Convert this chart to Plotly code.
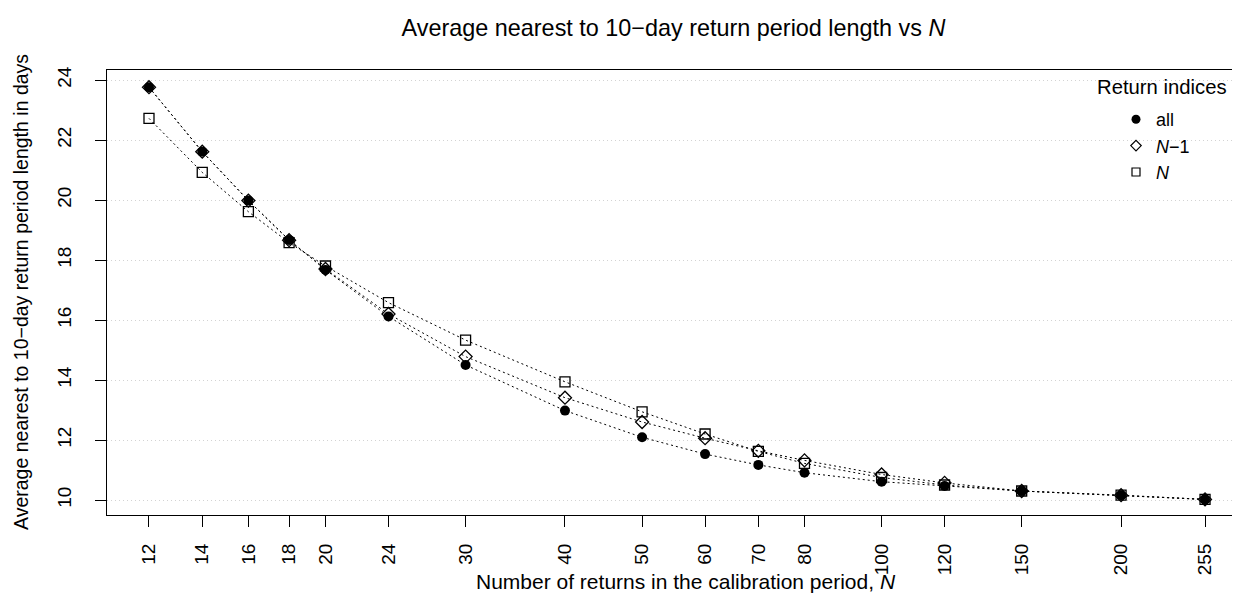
import plotly.graph_objects as go

# ---- data ----
N_values = [12, 14, 16, 18, 20, 24, 30, 40, 50, 60, 70, 80, 100, 120, 150, 200, 255]
x_tick_labels = [str(v) for v in N_values]
y_tick_values = [10, 12, 14, 16, 18, 20, 22, 24]

avg_all = [23.76, 21.61, 19.98, 18.67, 17.67, 16.12, 14.50, 12.98, 12.09, 11.53,
           11.17, 10.91, 10.61, 10.47, 10.30, 10.16, 10.02]
avg_n_minus_1 = [23.76, 21.61, 19.98, 18.66, 17.70, 16.20, 14.78, 13.41, 12.60, 12.06,
                 11.64, 11.32, 10.85, 10.57, 10.30, 10.16, 10.02]
avg_n = [22.72, 20.92, 19.61, 18.58, 17.80, 16.58, 15.33, 13.94, 12.94, 12.20,
         11.62, 11.22, 10.75, 10.50, 10.30, 10.16, 10.02]

series_names = ["all", "<i>N</i>−1", "<i>N</i>"]

FONT = "Liberation Sans, Arial, Helvetica, sans-serif"
line_style = dict(color="black", width=1, dash="2px,3px")

# the page body has an 8px default margin, so the figure is 8px smaller
W, H = 1232, 598
PLOT_W, PLOT_H = 1133, 445

fig = go.Figure()

specs = [
    (avg_all, dict(symbol="circle", size=10, color="black", line=dict(width=0))),
    (avg_n_minus_1, dict(symbol="diamond-open", size=10, color="black", line=dict(width=1.3, color="black"))),
    (avg_n, dict(symbol="square-open", size=10, color="black", line=dict(width=1.3, color="black"))),
]

for (vals, mk), name in zip(specs, series_names):
    fig.add_trace(go.Scatter(x=N_values, y=vals, mode="lines+markers", line=line_style,
                             marker=mk, showlegend=False, name=name, cliponaxis=False))

# legend-only entries (points only, like the R legend)
legend_marks = [
    dict(symbol="circle", size=9, color="black"),
    dict(symbol="diamond-open", size=8, color="black", line=dict(width=1.2, color="black")),
    dict(symbol="square-open", size=8, color="black", line=dict(width=1.2, color="black")),
]
for mk, name in zip(legend_marks, series_names):
    fig.add_trace(go.Scatter(x=[None], y=[None], mode="markers", marker=mk, name=name,
                             showlegend=True))

fig.update_layout(
    width=W, height=H,
    margin=dict(l=99, r=0, t=62, b=H - 62 - PLOT_H, autoexpand=False),
    paper_bgcolor="white", plot_bgcolor="white",
    font=dict(family=FONT, size=20, color="black"),
    title=dict(text="Average nearest to 10−day return period length vs <i>N</i>",
               x=0.5, xref="paper", xanchor="center",
               y=1 - 20 / H, yref="container", yanchor="middle",
               font=dict(size=23.4, family=FONT, color="black"), automargin=False),
    showlegend=True,
    legend=dict(x=(1116 - 107) / PLOT_W, y=1 - (101 - 70) / PLOT_H, xanchor="left", yanchor="top",
                bgcolor="rgba(0,0,0,0)", borderwidth=0,
                font=dict(size=18, family=FONT), itemwidth=30,
                tracegroupgap=0),
)

fig.update_xaxes(
    type="log", range=[1.0264, 2.4505], automargin=False,
    tickvals=N_values, ticktext=x_tick_labels, tickangle=-90,
    ticks="outside", ticklen=11, tickwidth=1, tickcolor="black",
    tickfont=dict(size=19, family=FONT),
    showline=True, linecolor="black", linewidth=1, mirror=True,
    showgrid=False, zeroline=False, ticklabelstandoff=9,
)
fig.update_yaxes(
    range=[9.5, 24.3333], tickvals=y_tick_values, automargin=False,
    ticktext=[str(v) for v in y_tick_values], tickangle=-90,
    ticks="outside", ticklen=11, tickwidth=1, tickcolor="black",
    tickfont=dict(size=19, family=FONT),
    showline=True, linecolor="black", linewidth=1, mirror=False,
    showgrid=True, gridcolor="#d3d3d3", gridwidth=1, griddash="1px,3px",
    zeroline=False, ticklabelstandoff=16,
)

# axis titles and legend title
fig.add_annotation(text="Number of returns in the calibration period, <i>N</i>",
                   xref="paper", yref="paper", x=(686 - 107) / PLOT_W, y=-(581 - 515) / PLOT_H,
                   xanchor="center", yanchor="middle", showarrow=False,
                   font=dict(size=21, family=FONT))
fig.add_annotation(text="Average nearest to 10−day return period length in days",
                   xref="paper", yref="paper", x=(20.5 - 107) / PLOT_W, y=0.5,
                   xanchor="center", yanchor="middle", textangle=-90, showarrow=False,
                   font=dict(size=19.5, family=FONT))
fig.add_annotation(text="Return indices", xref="paper", yref="paper",
                   x=(1229 - 107) / PLOT_W, y=1 - (87 - 70) / PLOT_H,
                   xanchor="right", yanchor="middle", showarrow=False,
                   font=dict(size=20.3, family=FONT))

fig.write_html("out.html")
